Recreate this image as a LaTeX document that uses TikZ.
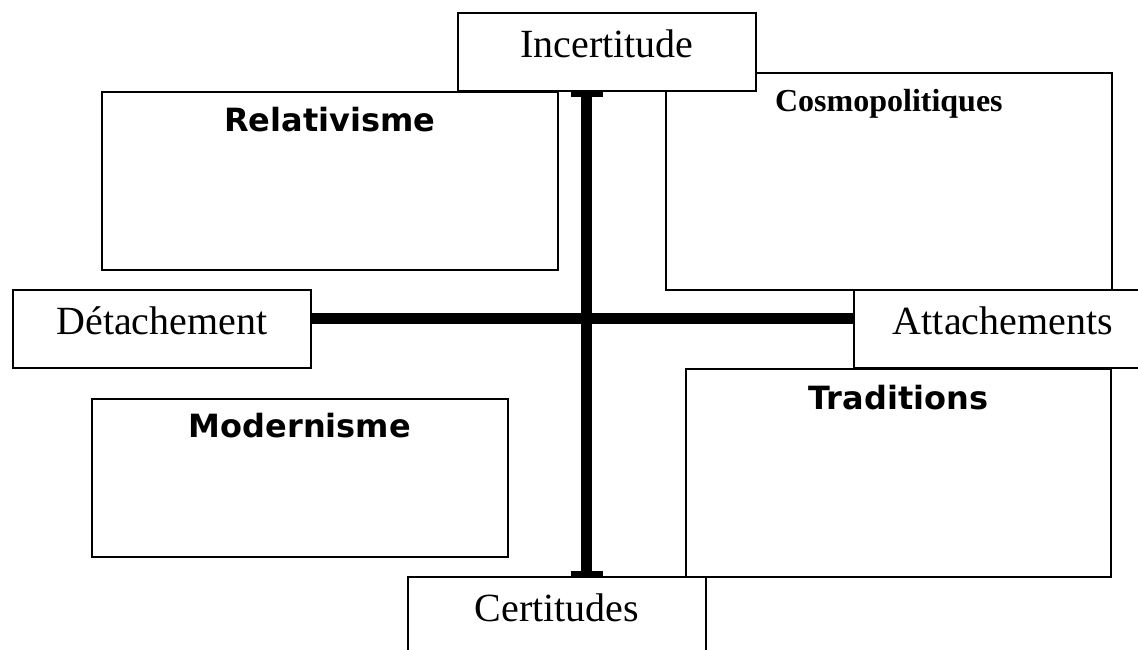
\documentclass[tikz,border=0pt]{standalone}
\usepackage{fontspec}
\setmainfont{Liberation Serif}
\newfontfamily\verd{DejaVu Sans}
\usetikzlibrary{calc}
\begin{document}
\begin{tikzpicture}[x=1pt,y=-1pt,
  box/.style={draw, line width=1.8pt, rectangle, inner sep=0pt, anchor=north west, fill=white},
  lab/.style={box, minimum width=298pt, minimum height=78pt, text height=45pt, text depth=33pt, font=\fontsize{40}{48}\selectfont},
  quad/.style={box, font=\verd\bfseries\fontsize{32}{38}\selectfont},
  quadserif/.style={box, font=\bfseries\fontsize{32}{38}\selectfont},
  thickbar/.style={line width=11pt},
  barcap/.style={line width=5pt}]
\useasboundingbox (0,0) rectangle (1138,649);
% quadrant boxes
\node[quad, minimum width=456pt, text height=40pt, text depth=138pt] (rel) at (101,91) {Relativisme};
\node[quadserif, minimum width=446pt, text height=39pt, text depth=178pt] (cos) at (665,72) {Cosmopolitiques};
\node[quad, minimum width=416pt, text height=39pt, text depth=119pt] (mod) at (91,398) {Modernisme};
\node[quad, minimum width=425pt, text height=41pt, text depth=167pt] (tra) at (685,368) {Traditions};
% axis labels
\node[lab] (inc) at (457,12) {Incertitude};
\node[lab] (det) at (12,289) {Détachement};
\node[lab] (att) at (853,289) {Attachements};
\node[lab] (cert) at (407,576) {Certitudes};
% axes
\coordinate (X) at (586.5,318.5);
\coordinate (vt) at (inc.south -| X);
\coordinate (vb) at (cert.north -| X);
\draw[thickbar] (det.east |- X) -- (att.west |- X);
\draw[thickbar] (vt) -- (vb);
\draw[barcap] ($(vt)+(-16,2.5)$) -- ($(vt)+(16,2.5)$);
\draw[barcap] ($(vb)+(-16,-2.5)$) -- ($(vb)+(16,-2.5)$);
\end{tikzpicture}
\end{document}
